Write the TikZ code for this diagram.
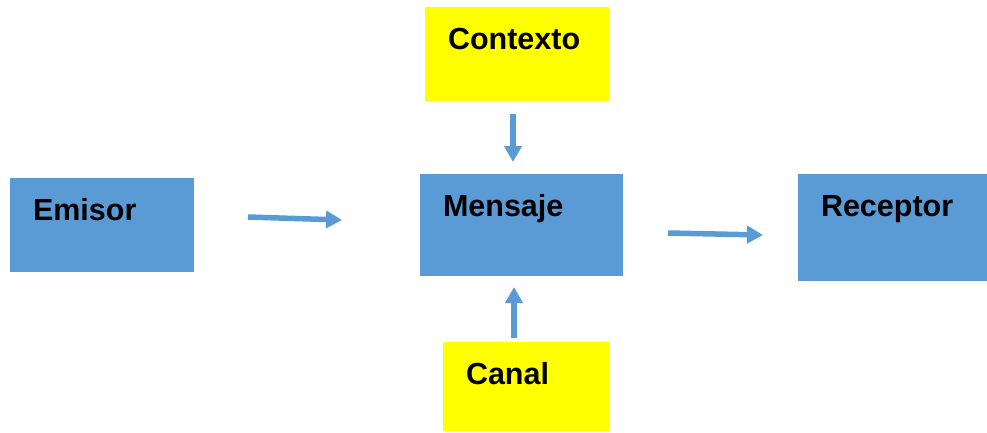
\documentclass[tikz,border=0pt]{standalone}
\usepackage{fontspec}
\setmainfont{Liberation Sans}
\usepackage{xcolor}
\usepackage{tikz}
\usetikzlibrary{positioning,arrows.meta}

\definecolor{boxblue}{HTML}{5B9BD5}
\definecolor{boxyellow}{HTML}{FFFF00}

\begin{document}
\begin{tikzpicture}[x=1pt,y=-1pt,line width=5.5pt,
    >={Triangle[width=17pt,length=16pt]}]
  \tikzstyle{box}=[fill=boxblue,inner xsep=23pt,inner ysep=0pt,outer sep=0pt,text height=42pt,
    align=left,anchor=north west,font=\fontsize{30.5}{36}\selectfont\bfseries]
  \tikzstyle{note}=[box,fill=boxyellow]
  \tikzstyle{flow}=[draw=boxblue,->]

  \useasboundingbox (0,0) rectangle (987,432);

  % boxes
  \node[box,text width=138pt,text depth=52pt] (emisor) at (10,178) {Emisor};
  \node[box,text width=157pt,text depth=60pt] (mensaje) at (420,174) {Mensaje};
  \node[box,text width=143pt,text depth=65pt] (receptor) at (798,174) {Receptor};
  \node[note,text width=138pt,text depth=52pt] (contexto) at (425,7) {Contexto};
  \node[note,text width=121pt,text depth=47pt] (canal) at (443,342) {Canal};

  % arrow ends
  \coordinate (e1) at (248,217);
  \coordinate (e2) at (342,220);
  \coordinate (r1) at (668,233);
  \coordinate (r2) at (763,235);
  \coordinate (c1) at (513,114);
  \coordinate (c2) at (513,162);
  \coordinate (k1) at (514,338);
  \coordinate (k2) at (514,287);

  \draw[flow] (e1) -- (e2);
  \draw[flow] (r1) -- (r2);
  \draw[flow] (c1) -- (c2);
  \draw[flow] (k1) -- (k2);
\end{tikzpicture}
\end{document}
